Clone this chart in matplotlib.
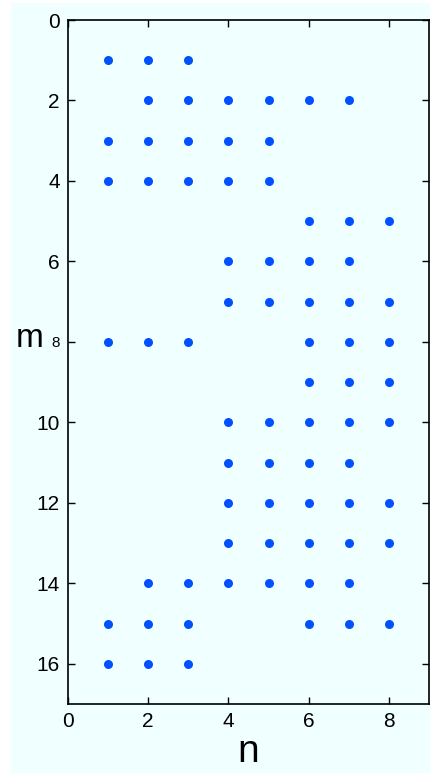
import matplotlib.pyplot as plt
from matplotlib.patches import Rectangle

# nonzero columns n for each row m
rows = {
    1: [1, 2, 3],
    2: [2, 3, 4, 5, 6, 7],
    3: [1, 2, 3, 4, 5],
    4: [1, 2, 3, 4, 5],
    5: [6, 7, 8],
    6: [4, 5, 6, 7],
    7: [4, 5, 6, 7, 8],
    8: [1, 2, 3, 6, 7, 8],
    9: [6, 7, 8],
    10: [4, 5, 6, 7, 8],
    11: [4, 5, 6, 7],
    12: [4, 5, 6, 7, 8],
    13: [4, 5, 6, 7, 8],
    14: [2, 3, 4, 5, 6, 7],
    15: [1, 2, 3, 6, 7, 8],
    16: [1, 2, 3],
}
xticks = [0, 2, 4, 6, 8]
yticks = [0, 2, 4, 6, 8, 10, 12, 14, 16]

ms = [m for m, ns in rows.items() for _ in ns]
ns = [n for m, cols in rows.items() for n in cols]

plt.rcParams['font.family'] = ['Liberation Sans', 'DejaVu Sans']

bg = "#f0ffff"
fig = plt.figure(figsize=(4.3, 7.74), dpi=100, facecolor="white")
fig.patches.append(Rectangle((11 / 430, 1 / 774), 1, 1 - 4 / 774, transform=fig.transFigure,
                             facecolor=bg, edgecolor="none", zorder=-1))

W, H = 430, 774
ax = fig.add_axes([68 / W, 1 - 704 / H, (429 - 68) / W, (704 - 20) / H])
ax.set_facecolor(bg)
ax.plot(ns, ms, "o", color="#0050ff", markersize=6.5, markeredgewidth=0, clip_on=False)

ax.set_xlim(0, 9)
ax.set_ylim(17, 0)
ax.set_xticks(xticks)
ax.set_yticks(yticks)
ax.tick_params(direction="in", top=True, right=True, length=5, width=1, labelsize=15, pad=6)
for s in ax.spines.values():
    s.set_linewidth(1.2)

# the 8 next to the "m" label comes out smaller in the original
for lbl in ax.get_yticklabels():
    if lbl.get_text() == "8":
        lbl.set_fontsize(11)

ax.set_xlabel("n", fontsize=28, labelpad=2)
ax.set_ylabel("m", fontsize=24, rotation=0, va="center", ha="center")
ax.yaxis.set_label_coords(-0.105, 0.535)

fig.savefig("out.png", dpi=100, facecolor=fig.get_facecolor())
